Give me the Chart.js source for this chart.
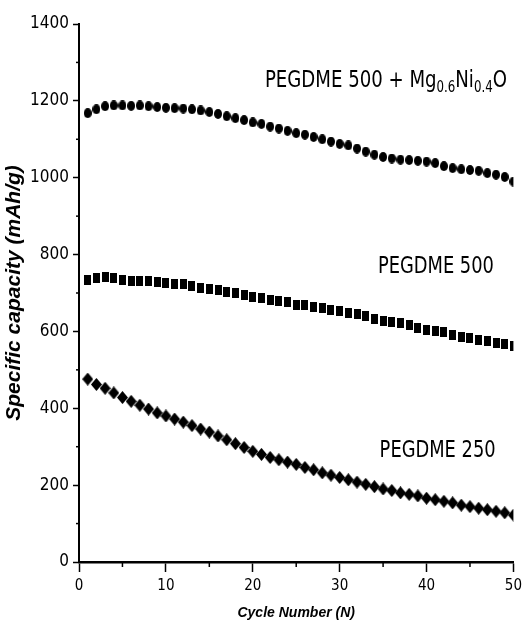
<!DOCTYPE html>
<html>
<head>
<meta charset="utf-8">
<script src="https://cdn.jsdelivr.net/npm/chart.js@4/dist/chart.umd.min.js"></script>
<style>
html,body{margin:0;padding:0;background:#fff;}
#wrap{width:527px;height:632px;position:relative;}
</style>
</head>
<body>
<div id="wrap"><canvas id="c" width="527" height="632"></canvas></div>
<script>
// ---- data ----
const cycles = [1,2,3,4,5,6,7,8,9,10,11,12,13,14,15,16,17,18,19,20,21,22,23,24,25,26,27,28,29,30,31,32,33,34,35,36,37,38,39,40,41,42,43,44,45,46,47,48,49,50];
const pegdme500Mg = [1168,1178,1186,1188,1188,1187,1188,1186,1184,1182,1181,1180,1178,1175,1171,1166,1160,1155,1150,1144,1140,1133,1128,1122,1116,1112,1106,1100,1094,1088,1084,1076,1068,1060,1054,1050,1047,1046,1044,1042,1038,1030,1025,1022,1020,1018,1012,1008,1002,990];
const pegdme500 = [733,740,741,738,734,731,730,731,729,726,724,724,718,712,710,708,703,700,694,690,686,682,679,676,670,668,664,660,656,652,648,645,640,632,626,624,621,616,610,605,602,598,592,586,582,578,575,571,566,562];
const pegdme250 = [476,462,452,440,428,418,408,398,388,380,372,364,355,346,338,328,318,308,298,288,280,272,266,260,254,246,240,232,226,220,214,208,202,196,190,186,180,176,172,166,162,158,154,148,144,140,136,132,128,122];
const yTicks = [0,200,400,600,800,1000,1200,1400];
const xTicks = [0,10,20,30,40,50];
const seriesLabels = ["PEGDME 500 + Mg0.6Ni0.4O","PEGDME 500","PEGDME 250"];

// ---- marker images ----
function mk(w,h,draw){const c=document.createElement('canvas');c.width=w;c.height=h;const g=c.getContext('2d');g.fillStyle='#000';draw(g,w,h);return c;}
const ellImg = mk(8,10,(g,w,h)=>{g.beginPath();g.ellipse(w/2,h/2,w/2,h/2,0,0,Math.PI*2);g.fill();});
const rectImg = mk(7,10,(g,w,h)=>{g.fillRect(0,0,w,h);});
const diaImg = mk(11,13,(g,w,h)=>{g.beginPath();g.moveTo(w/2,0);g.lineTo(w,h/2);g.lineTo(w/2,h);g.lineTo(0,h/2);g.closePath();g.fill();});

function pts(vals){return cycles.map((c,i)=>({x:c,y:vals[i]}));}

const NARROW = "'Liberation Sans Narrow','Arial Narrow','DejaVu Sans Condensed',sans-serif";

// minor ticks + annotation text
const extras = {
  id:'extras',
  afterDraw(chart){
    const ctx=chart.ctx, xs=chart.scales.x, ys=chart.scales.y;
    ctx.save();
    ctx.strokeStyle='#000';
    ctx.lineWidth=1.5;
    for(let v=5; v<50; v+=10){const px=xs.getPixelForValue(v);ctx.beginPath();ctx.moveTo(px,ys.bottom);ctx.lineTo(px,ys.bottom+5);ctx.stroke();}
    for(let v=100; v<1400; v+=200){const py=ys.getPixelForValue(v);ctx.beginPath();ctx.moveTo(xs.left,py);ctx.lineTo(xs.left-3,py);ctx.stroke();}
    ctx.fillStyle='#000';
    ctx.textBaseline='alphabetic';
    function drawRuns(runs, xv, yv, targetW){
      const x0=xs.getPixelForValue(xv), y0=ys.getPixelForValue(yv);
      let w=0;
      runs.forEach(r=>{ctx.font=(r[1]?'15px ':'23px ')+NARROW; w+=ctx.measureText(r[0]).width;});
      const s=targetW/w;
      ctx.save();
      ctx.translate(x0,y0);
      ctx.scale(s,1);
      let cx=0;
      runs.forEach(r=>{ctx.font=(r[1]?'15px ':'23px ')+NARROW; ctx.fillText(r[0],cx,r[1]?5:0); cx+=ctx.measureText(r[0]).width;});
      ctx.restore();
    }
    drawRuns([["PEGDME 500 + Mg",0],["0.6",1],["Ni",0],["0.4",1],["O",0]], 21.4, 1237, 242);
    drawRuns([["PEGDME 500",0]], 34.4, 752, 116);
    drawRuns([["PEGDME 250",0]], 34.6, 274, 116);
    ctx.restore();
  }
};

new Chart(document.getElementById('c'),{
  type:'scatter',
  data:{datasets:[
    {label:seriesLabels[0],data:pts(pegdme500Mg),pointStyle:ellImg,pointRadius:5,showLine:false},
    {label:seriesLabels[1],data:pts(pegdme500),pointStyle:rectImg,pointRadius:5,showLine:false},
    {label:seriesLabels[2],data:pts(pegdme250),pointStyle:diaImg,pointRadius:6,showLine:false}
  ]},
  options:{
    responsive:false,animation:false,
    layout:{padding:{left:0,right:6,top:24,bottom:0}},
    plugins:{legend:{display:false},tooltip:{enabled:false}},
    scales:{
      x:{type:'linear',min:0,max:50,
        afterBuildTicks:s=>{s.ticks=xTicks.map(v=>({value:v}));},
        afterFit:s=>{s.height=70;},
        border:{display:true,color:'#000',width:2.5},
        grid:{display:true,drawOnChartArea:false,drawTicks:true,tickLength:10,color:'#000',tickWidth:1.5},
        ticks:{color:'#000',font:{family:NARROW,size:15},padding:5,maxRotation:0,callback:v=>String(v)},
        title:{display:true,text:'Cycle Number (N)',color:'#000',font:{family:"'Liberation Sans',Arial,sans-serif",size:14,weight:'bold',style:'italic'},padding:{top:0,bottom:10}}
      },
      y:{type:'linear',min:0,max:1400,
        afterBuildTicks:s=>{s.ticks=yTicks.map(v=>({value:v}));},
        afterFit:s=>{s.width=79;},
        border:{display:true,color:'#000',width:2},
        grid:{display:true,drawOnChartArea:false,drawTicks:true,tickLength:6,color:'#000',tickWidth:1.5},
        ticks:{color:'#000',font:{family:NARROW,size:17},padding:4,callback:v=>String(v)},
        title:{display:true,text:'Specific capacity (mAh/g)',color:'#000',font:{family:"'Liberation Sans',Arial,sans-serif",size:21,weight:'bold',style:'italic'},padding:{top:2,bottom:0}}
      }
    }
  },
  plugins:[extras]
});
</script>
</body>
</html>
